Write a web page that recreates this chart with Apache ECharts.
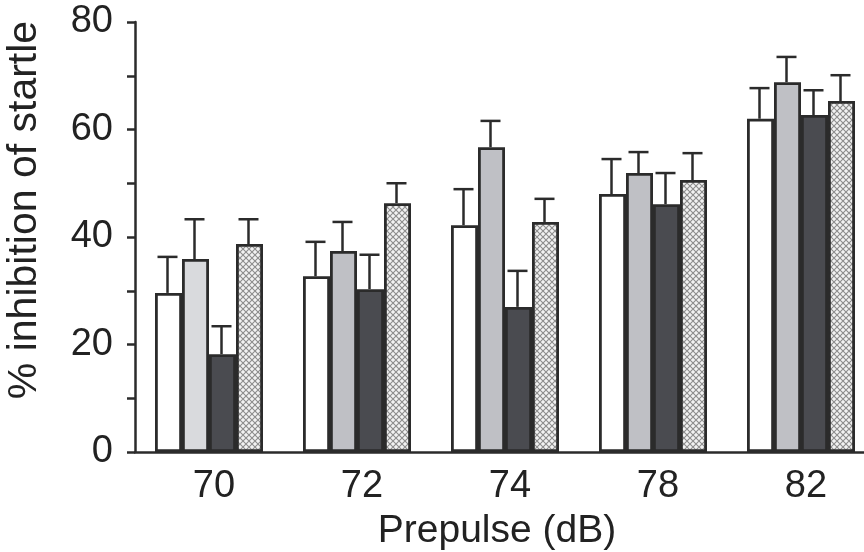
<!DOCTYPE html>
<html lang="en">
  <head>
    <meta charset="UTF-8" />
    <title>Prepulse inhibition</title>
    <script src="https://cdn.jsdelivr.net/npm/echarts@6/dist/echarts.min.js"></script>
    <style>
      html, body { margin: 0; padding: 0; background: #fff; }
      #main { width: 864px; height: 552px; }
    </style>
  </head>
  <body>
    <div id="main"></div>
    <script>
      // data
      const categories = ["70", "72", "74", "78", "82"];
      const seriesNames = ["Group A", "Group B", "Group C", "Group D"];
      const meanA = [29.6, 32.7, 42.2, 48.0, 62.0];
      const meanB = [35.9, 37.4, 56.7, 51.9, 68.8];
      const meanC = [18.2, 30.3, 27.0, 46.1, 62.7];
      const meanD = [38.7, 46.3, 42.8, 50.6, 65.3];
      const semA = [6.7, 6.4, 6.7, 6.5, 5.7];
      const semB = [7.4, 5.4, 4.9, 3.9, 4.7];
      const semC = [5.2, 6.4, 6.7, 5.8, 4.6];
      const semD = [4.6, 3.7, 4.3, 5.0, 4.8];

      const means = [meanA, meanB, meanC, meanD];
      const sems = [semA, semB, semC, semD];

      const barW = 27;
      const edge = "#2b2b2b";
      const font = "'Liberation Sans', Arial, Helvetica, sans-serif";

      // crosshatch fill for the last group
      const makeHatch = () => {
        const c = document.createElement("canvas");
        c.width = 6;
        c.height = 6;
        const ctx = c.getContext("2d");
        ctx.fillStyle = "#f2f2f2";
        ctx.fillRect(0, 0, 6, 6);
        ctx.strokeStyle = "#8c8c8c";
        ctx.lineWidth = 1.1;
        ctx.beginPath();
        ctx.moveTo(0, 0); ctx.lineTo(6, 6);
        ctx.moveTo(6, 0); ctx.lineTo(0, 6);
        ctx.stroke();
        return c;
      };

      const fills = ["#ffffff", "#bfc0c5", "#4a4b50", { image: makeHatch(), repeat: "repeat" }];

      const barSeries = means.map((m, i) => ({
        name: seriesNames[i],
        type: "bar",
        barWidth: barW,
        barGap: "0%",
        data: m.map((v, j) => {
          const item = { value: v };
          // the grey bar at 70 dB is printed lighter
          if (i === 1 && j === 0) item.itemStyle = { color: "#d9dadd" };
          return item;
        }),
        itemStyle: { color: fills[i], borderColor: edge, borderWidth: 2.8 },
        z: 2,
      }));

      // upper error bars, drawn with a custom series
      const errSeries = means.map((m, i) => ({
        type: "custom",
        z: 3,
        data: m.map((v, j) => [j, v, v + sems[i][j]]),
        renderItem: (params, api) => {
          const off = (i - 1.5) * barW - 1;
          const lo = api.coord([api.value(0), api.value(1)]);
          const hi = api.coord([api.value(0), api.value(2)]);
          const x = lo[0] + off;
          const style = { stroke: edge, lineWidth: 2.5 };
          return {
            type: "group",
            children: [
              { type: "line", shape: { x1: x, y1: lo[1], x2: x, y2: hi[1] }, style },
              { type: "line", shape: { x1: x - 10, y1: hi[1], x2: x + 10, y2: hi[1] }, style },
            ],
          };
        },
      }));

      const chart = echarts.init(document.getElementById("main"));
      chart.setOption({
        animation: false,
        grid: { left: 135, top: 22, width: 740, height: 430, outerBoundsMode: "none" },
        xAxis: {
          type: "category",
          data: categories,
          name: "Prepulse (dB)",
          nameLocation: "middle",
          nameGap: 60,
          nameTextStyle: { fontSize: 39, color: "#222", fontFamily: font, padding: [0, 0, 0, -16] },
          axisLine: { lineStyle: { color: edge, width: 2.5 } },
          axisTick: { length: 8, lineStyle: { color: edge, width: 2.5 } },
          axisLabel: { fontSize: 38, color: "#222", fontFamily: font, margin: 16, padding: [0, 0, 0, 10] },
        },
        yAxis: {
          type: "value",
          min: 0,
          max: 80,
          interval: 10,
          name: "% inhibition of startle",
          nameLocation: "middle",
          nameGap: 90,
          nameTextStyle: { fontSize: 41, color: "#222", fontFamily: font, padding: [0, 0, 0, 54] },
          splitLine: { show: false },
          axisLine: { show: true, lineStyle: { color: edge, width: 2.5 } },
          axisTick: { show: true, length: 8, lineStyle: { color: edge, width: 2.5 } },
          axisLabel: {
            fontSize: 38,
            color: "#222",
            fontFamily: font,
            margin: 22,
            formatter: (v) => (v % 20 === 0 ? String(v) : ""),
          },
        },
        series: [...barSeries, ...errSeries],
      });
    </script>
  </body>
</html>
